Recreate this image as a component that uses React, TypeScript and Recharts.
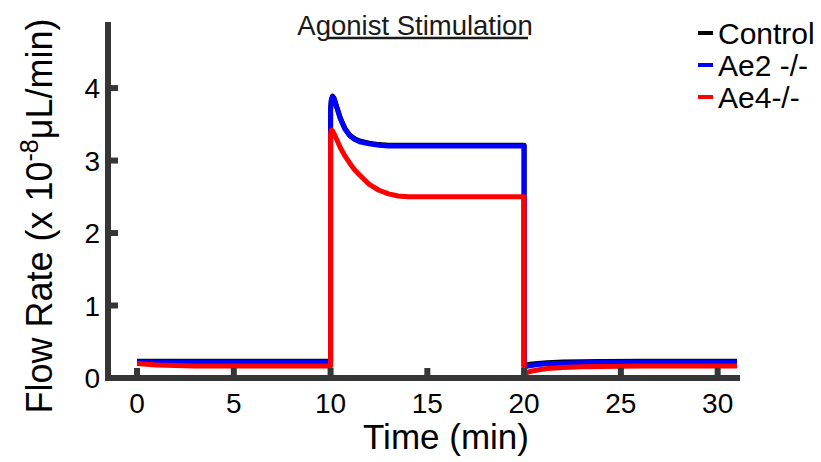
import { LineChart, Line, XAxis, YAxis } from 'recharts';

// time in minutes, flow in x 10^-8 uL/min
const timeMin = [
  0, 1, 3, 10, 10, 10.04, 10.1, 10.18, 10.3, 10.5, 10.75, 11, 11.25, 11.5, 12,
  12.5, 13, 13.5, 14, 17, 20, 20, 20.3, 20.7, 21.2, 22, 23, 24, 26, 28, 31,
];
const controlFlow = [
  0.23, 0.23, 0.23, 0.23, 3.71, 3.84, 3.89, 3.86, 3.76, 3.59, 3.44, 3.35, 3.3,
  3.27, 3.24, 3.22, 3.21, 3.21, 3.21, 3.21, 3.21, 0.17, 0.19, 0.2, 0.21, 0.22,
  0.225, 0.228, 0.23, 0.23, 0.23,
];
const ae2Flow = [
  0.22, 0.22, 0.22, 0.22, 3.7, 3.83, 3.88, 3.85, 3.75, 3.58, 3.43, 3.34, 3.29,
  3.26, 3.23, 3.21, 3.2, 3.2, 3.2, 3.2, 3.2, 0.15, 0.17, 0.185, 0.195, 0.205,
  0.212, 0.216, 0.22, 0.22, 0.22,
];
const ae4Flow = [
  0.2, 0.18, 0.165, 0.165, 3.36, 3.42, 3.41, 3.37, 3.3, 3.18, 3.06, 2.96, 2.87,
  2.8, 2.67, 2.59, 2.54, 2.51, 2.5, 2.5, 2.5, 0.06, 0.09, 0.11, 0.13, 0.145,
  0.155, 0.16, 0.165, 0.165, 0.165,
];
const xTicks = [0, 5, 10, 15, 20, 25, 30];
const yTicks = [0, 1, 2, 3, 4];

const series = [
  { key: 'control', name: 'Control', color: '#000000' },
  { key: 'ae2', name: 'Ae2 -/-', color: '#0000ff' },
  { key: 'ae4', name: 'Ae4-/-', color: '#ff0000' },
];

const data = timeMin.map((t, i) => ({
  t,
  control: controlFlow[i],
  ae2: ae2Flow[i],
  ae4: ae4Flow[i],
}));

const FONT = '"Liberation Sans", Arial, Helvetica, sans-serif';
const AXIS = '#363636';

const XTick = ({ x, y, payload }: any) => (
  <g>
    <line x1={x} y1={y} x2={x} y2={y - 10} stroke={AXIS} strokeWidth={6} />
    <text x={x} y={y + 35} textAnchor="middle" fontSize={28} fontFamily={FONT} fill="#000">
      {payload.value}
    </text>
  </g>
);

const YTick = ({ x, y, payload }: any) => (
  <g>
    <line x1={x} y1={y} x2={x + 10} y2={y} stroke={AXIS} strokeWidth={6} />
    <text x={x - 8} y={y + 10} textAnchor="end" fontSize={28} fontFamily={FONT} fill="#000">
      {payload.value}
    </text>
  </g>
);

export default function App() {
  return (
    <div style={{ position: 'absolute', left: 0, top: 0, width: 821, height: 462, background: '#fff' }}>
      <LineChart
        width={821}
        height={462}
        data={data}
        margin={{ top: 25, right: 84, left: 107, bottom: 83 }}
      >
        <XAxis
          dataKey="t"
          type="number"
          domain={[-1.5, 31]}
          ticks={xTicks}
          allowDataOverflow
          height={1}
          tickSize={0}
          tickMargin={0}
          tickLine={false}
          tick={<XTick />}
          axisLine={{ stroke: AXIS, strokeWidth: 6, strokeLinecap: 'square' }}
        />
        <YAxis
          type="number"
          domain={[0, 4.87]}
          ticks={yTicks}
          allowDataOverflow
          width={1}
          tickSize={0}
          tickMargin={0}
          tickLine={false}
          tick={<YTick />}
          axisLine={{ stroke: AXIS, strokeWidth: 6, strokeLinecap: 'square' }}
        />
        {series.map((s) => (
          <Line
            key={s.key}
            dataKey={s.key}
            name={s.name}
            type="linear"
            stroke={s.color}
            strokeWidth={5}
            strokeLinejoin="round"
            dot={false}
            isAnimationActive={false}
          />
        ))}
      </LineChart>
      <svg
        width={821}
        height={462}
        style={{ position: 'absolute', left: 0, top: 0, pointerEvents: 'none' }}
        fontFamily={FONT}
      >
        {/* title */}
        <text x={415} y={35} textAnchor="middle" fontSize={27.5} fill="#1a1a1a">
          Agonist Stimulation
        </text>
        <line x1={328} y1={38} x2={528} y2={38} stroke="#1a1a1a" strokeWidth={2.5} />
        {/* axis titles */}
        <text x={446} y={449} textAnchor="middle" fontSize={35} fill="#000">
          Time (min)
        </text>
        <text
          x={52}
          y={216}
          textAnchor="middle"
          fontSize={36}
          fill="#000"
          transform="rotate(-90, 52, 216)"
        >
          Flow Rate (x 10
          <tspan dy={-14} fontSize={25}>-8</tspan>
          <tspan dy={14}>μL/min)</tspan>
        </text>
        {/* legend */}
        {series.map((s, i) => (
          <g key={s.key}>
            <line x1={698} y1={33 + i * 32} x2={713} y2={33 + i * 32} stroke={s.color} strokeWidth={4} />
            <text x={718} y={44 + i * 32} fontSize={30} fill="#000">
              {s.name}
            </text>
          </g>
        ))}
      </svg>
    </div>
  );
}
